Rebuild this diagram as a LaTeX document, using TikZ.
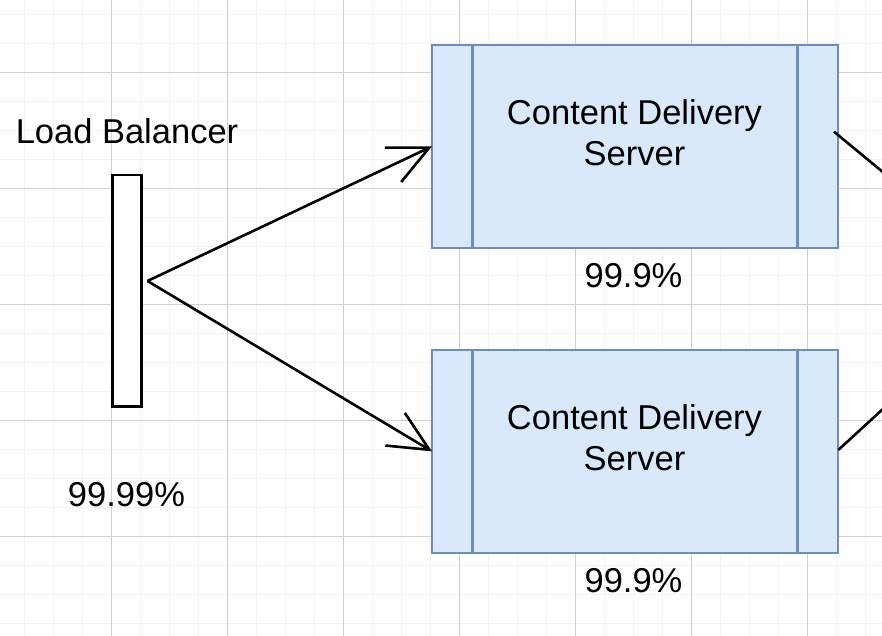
\documentclass[tikz,border=0pt]{standalone}
\usepackage{fontspec}
\setmainfont{Liberation Sans}
\usetikzlibrary{arrows.meta,calc}
\definecolor{gridminor}{HTML}{F2F2F2}
\definecolor{gridmajor}{HTML}{D0D0D0}
\definecolor{cdsfill}{HTML}{DAE8FC}
\definecolor{cdsdraw}{HTML}{6C8EBF}
\tikzset{
  txt/.style={inner sep=0pt, font=\fontsize{34.5}{41.7}\selectfont, text=black},
  cdsbox/.style={draw=cdsdraw, fill=cdsfill, line width=2.5pt, rectangle, minimum width=406pt, minimum height=203pt, inner sep=0pt, outer sep=0pt},
  lbbox/.style={draw=black, fill=white, line width=2.6pt, rectangle, minimum width=29pt, minimum height=231.7pt, inner sep=0pt, outer sep=0pt},
  conn/.style={draw=black, line width=2.6pt, -{Straight Barb[length=40pt,width=38pt,line width=2.6pt]}},
  plainconn/.style={draw=black, line width=2.6pt},
  subline/.style={draw=cdsdraw, line width=2.5pt}
}
\begin{document}
\begin{tikzpicture}[x=1pt,y=-1pt]
\useasboundingbox (0,0) rectangle (882,636);
\clip (0,0) rectangle (882,636);
\fill[white] (0,0) rectangle (882,636);
% grid
\foreach \i in {0,...,31} {
  \draw[gridminor, line width=1pt] ({-4.3+29*\i},0) -- ({-4.3+29*\i},636);
}
\foreach \j in {0,...,23} {
  \draw[gridminor, line width=1pt] (0,{-14.7+29*\j}) -- (882,{-14.7+29*\j});
}
\foreach \i in {0,...,7} {
  \draw[gridmajor, line width=1pt] ({111.7+116*\i},0) -- ({111.7+116*\i},636);
}
\foreach \j in {0,...,4} {
  \draw[gridmajor, line width=1pt] (0,{72.3+116*\j}) -- (882,{72.3+116*\j});
}
% load balancer
\node[lbbox] (lb) at (127.2,290.85) {};
\node[txt, anchor=base] (lbtitle) at (127,143.3) {Load Balancer};
\node[txt, anchor=base] (lbav) at (126.5,506) {99.99\%};
% content delivery servers
\node[cdsbox] (cds1) at (635,146.35) {};
\node[cdsbox] (cds2) at (635,451.35) {};
\foreach \b in {cds1,cds2} {
  \draw[subline] ([xshift=40.5pt]\b.north west) -- ([xshift=40.5pt]\b.south west);
  \draw[subline] ([xshift=-40.5pt]\b.north east) -- ([xshift=-40.5pt]\b.south east);
}
\node[txt, align=center] (cds1t) at (634.5,132.8) {Content Delivery\\Server};
\node[txt, align=center] (cds2t) at (634.5,437.8) {Content Delivery\\Server};
\node[txt, anchor=base] (cds1av) at (633.5,287.7) {99.9\%};
\node[txt, anchor=base] (cds2av) at (633.5,592.7) {99.9\%};
% connectors
\coordinate (lbout) at (147.5,281);
\draw[conn] (lbout) -- (cds1.west);
\draw[conn] (lbout) -- (cds2.west);
\coordinate (o1) at (834,131.7);
\coordinate (e1) at (884,173);
\coordinate (o2) at (838.3,450);
\coordinate (e2) at (884,408);
\draw[plainconn] (o1) -- (e1);
\draw[plainconn] (o2) -- (e2);
\end{tikzpicture}
\end{document}
